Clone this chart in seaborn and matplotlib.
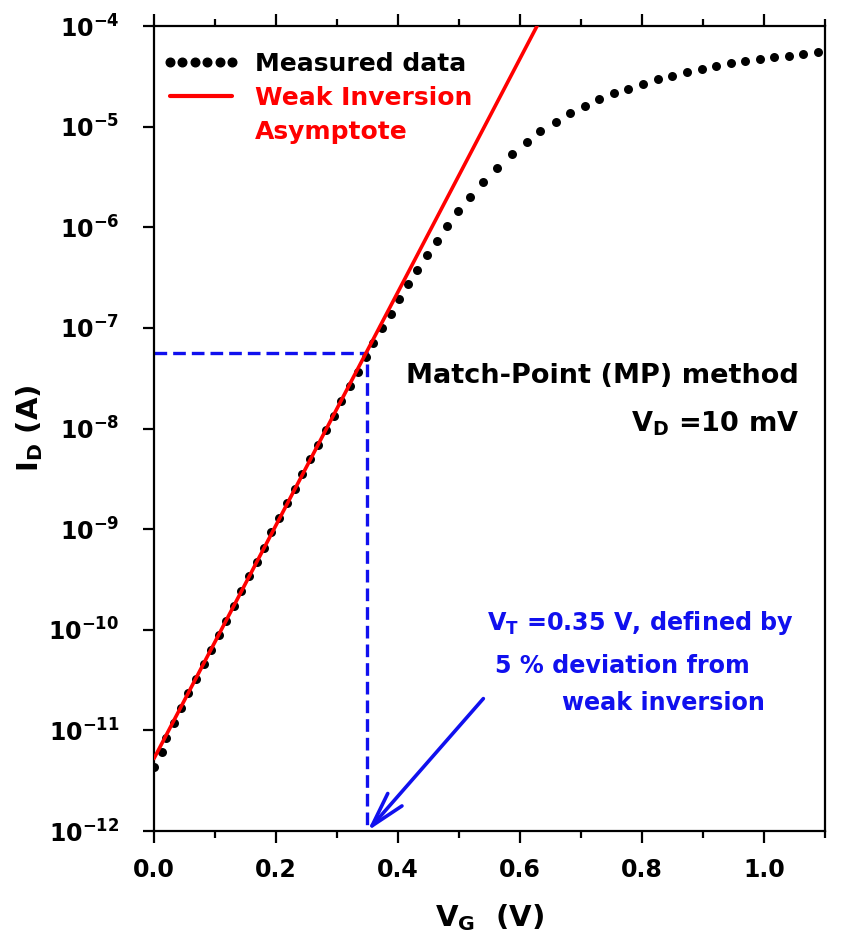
import matplotlib
matplotlib.use("Agg")
import matplotlib.pyplot as plt
import seaborn as sns
import pandas as pd
from matplotlib.lines import Line2D
from matplotlib.ticker import NullLocator, FixedLocator

# ---------------- data ----------------
vg_measured = [0.0, 0.0137, 0.019, 0.0333, 0.0437, 0.0557, 0.0689, 0.082, 0.094, 0.106,
               0.1186, 0.1317, 0.1432, 0.1563, 0.1683, 0.1809, 0.1923, 0.2054, 0.2186, 0.2311,
               0.2431, 0.2557, 0.2683, 0.2814, 0.2945, 0.3071, 0.3208, 0.3344, 0.3475, 0.3596,
               0.3732, 0.388, 0.4022, 0.417, 0.4317, 0.447, 0.4634, 0.4798, 0.4978, 0.518,
               0.5388, 0.5628, 0.5863, 0.611, 0.633, 0.6585, 0.682, 0.7066, 0.730, 0.754,
               0.7775, 0.8022, 0.8257, 0.8497, 0.8732, 0.8978, 0.9213, 0.9454, 0.9689, 0.9934,
               1.0169, 1.041, 1.0645, 1.089]
id_measured = [4.34e-12, 6.11e-12, 8.49e-12, 1.19e-11, 1.67e-11, 2.33e-11, 3.26e-11, 4.55e-11, 6.27e-11, 8.83e-11,
               1.23e-10, 1.72e-10, 2.42e-10, 3.41e-10, 4.73e-10, 6.52e-10, 9.27e-10, 1.29e-9, 1.80e-9, 2.52e-9,
               3.52e-9, 4.93e-9, 6.84e-9, 9.64e-9, 1.34e-8, 1.87e-8, 2.62e-8, 3.66e-8, 5.16e-8, 7.11e-8,
               9.91e-8, 1.37e-7, 1.92e-7, 2.70e-7, 3.76e-7, 5.33e-7, 7.35e-7, 1.03e-6, 1.45e-6, 2.01e-6,
               2.81e-6, 3.90e-6, 5.35e-6, 7.08e-6, 8.97e-6, 1.10e-5, 1.36e-5, 1.60e-5, 1.87e-5, 2.14e-5,
               2.38e-5, 2.65e-5, 2.95e-5, 3.21e-5, 3.52e-5, 3.74e-5, 4.00e-5, 4.26e-5, 4.49e-5, 4.70e-5,
               4.89e-5, 5.07e-5, 5.27e-5, 5.47e-5]

vg_asymptote = [0.0, 0.628]
id_asymptote = [5.25e-12, 1.0e-4]

vt = 0.35                 # threshold voltage (V)
id_match = 5.6e-8         # current at match point (A)
id_floor = 1e-12

x_ticks = [0.0, 0.2, 0.4, 0.6, 0.8, 1.0]
x_tick_labels = ["0.0", "0.2", "0.4", "0.6", "0.8", "1.0"]
y_ticks = [1e-12, 1e-11, 1e-10, 1e-9, 1e-8, 1e-7, 1e-6, 1e-5, 1e-4]
y_tick_labels = [r"$\mathbf{10^{-12}}$", r"$\mathbf{10^{-11}}$", r"$\mathbf{10^{-10}}$",
                 r"$\mathbf{10^{-9}}$", r"$\mathbf{10^{-8}}$", r"$\mathbf{10^{-7}}$",
                 r"$\mathbf{10^{-6}}$", r"$\mathbf{10^{-5}}$", r"$\mathbf{10^{-4}}$"]

legend_labels = ["Measured data", "Weak Inversion", "Asymptote"]

# ---------------- style ----------------
sns.set_theme(style="ticks")
plt.rcParams["font.family"] = ["DejaVu Sans"]
plt.rcParams["font.weight"] = "bold"
plt.rcParams["mathtext.fontset"] = "dejavusans"
plt.rcParams["mathtext.default"] = "bf"
plt.rcParams["axes.edgecolor"] = "black"
plt.rcParams["axes.labelcolor"] = "black"
plt.rcParams["text.color"] = "black"
plt.rcParams["xtick.color"] = "black"
plt.rcParams["ytick.color"] = "black"

fig = plt.figure(figsize=(8.53, 9.39), dpi=100)
ax = fig.add_axes([0.1805, 0.115, 0.7866, 0.8573])
ax.set_yscale("log")

meas = pd.DataFrame({"VG": vg_measured, "ID": id_measured})
asym = pd.DataFrame({"VG": vg_asymptote, "ID": id_asymptote})

sns.scatterplot(data=meas, x="VG", y="ID", ax=ax, color="black", s=42,
                linewidth=0, legend=False, zorder=3)
sns.lineplot(data=asym, x="VG", y="ID", ax=ax, color="red", lw=2.6,
             legend=False, zorder=4)

blue = "#1010ee"
ax.plot([0.0, vt, vt], [id_match, id_match, id_floor], color=blue,
        lw=2.4, dashes=(3.8, 1.8), zorder=2, clip_on=False)

ax.annotate("", xy=(vt, id_floor), xytext=(0.54, 2.07e-11),
            arrowprops=dict(arrowstyle="->,head_length=1.25,head_width=0.34",
                            color=blue, lw=2.6, shrinkA=0, shrinkB=0,
                            mutation_scale=20), zorder=5)

ax.set_xlim(0, 1.1)
ax.set_ylim(1e-12, 1e-4)

ax.xaxis.set_major_locator(FixedLocator(x_ticks))
ax.set_xticklabels(x_tick_labels)
ax.set_xticks([0.1, 0.3, 0.5, 0.7, 0.9, 1.1], minor=True)
ax.yaxis.set_major_locator(FixedLocator(y_ticks))
ax.set_yticklabels(y_tick_labels)
ax.yaxis.set_minor_locator(NullLocator())

for s in ax.spines.values():
    s.set_visible(True)
    s.set_linewidth(1.6)
    s.set_color("black")

ax.tick_params(axis="x", which="major", direction="out", length=8.5, width=1.6,
               top=True, labeltop=False, labelsize=17, pad=11)
ax.tick_params(axis="x", which="minor", direction="out", length=5, width=1.6, top=True)
ax.tick_params(axis="y", which="major", direction="out", length=8, width=1.6,
               right=False, labelsize=17, pad=17)
for lab in ax.get_xticklabels() + ax.get_yticklabels():
    lab.set_fontweight("bold")
    lab.set_color("black")

ax.set_xlabel(r"$\mathbf{V_G}$  (V)", fontsize=21, fontweight="bold", color="black")
ax.xaxis.set_label_coords(0.5, -0.088)
ax.set_ylabel(r"$\mathbf{I_D}$ (A)", fontsize=21, fontweight="bold", color="black")
ax.yaxis.set_label_coords(-0.162, 0.5)

handles = [Line2D([], [], ls="none", marker="o", color="black", ms=6.2),
           Line2D([], [], color="red", lw=3),
           Line2D([], [], color="none")]
leg = ax.legend(handles, legend_labels, loc="upper left", bbox_to_anchor=(0.012, 0.968),
                frameon=False, numpoints=6, handlelength=3.1, handletextpad=0.6,
                labelspacing=0.4, borderaxespad=0, borderpad=0,
                prop={"weight": "bold", "size": 18})
leg.get_texts()[0].set_color("black")
leg.get_texts()[1].set_color("red")
leg.get_texts()[2].set_color("red")

ax.text(0.961, 0.557, "Match-Point (MP) method", transform=ax.transAxes,
        ha="right", va="baseline", fontsize=19.5, fontweight="bold", color="black")
ax.text(0.961, 0.496, r"$\mathbf{V_D}$ =10 mV", transform=ax.transAxes,
        ha="right", va="baseline", fontsize=19.5, fontweight="bold", color="black")

ax.text(0.4963, 0.2497, r"$\mathbf{V_T}$ =0.35 V, defined by", transform=ax.transAxes,
        ha="left", va="baseline", fontsize=17.2, fontweight="bold", color=blue)
ax.text(0.508, 0.1966, "5 % deviation from", transform=ax.transAxes,
        ha="left", va="baseline", fontsize=17.2, fontweight="bold", color=blue)
ax.text(0.608, 0.150, "weak inversion", transform=ax.transAxes,
        ha="left", va="baseline", fontsize=17.2, fontweight="bold", color=blue)

fig.savefig("out.png", dpi=100)
